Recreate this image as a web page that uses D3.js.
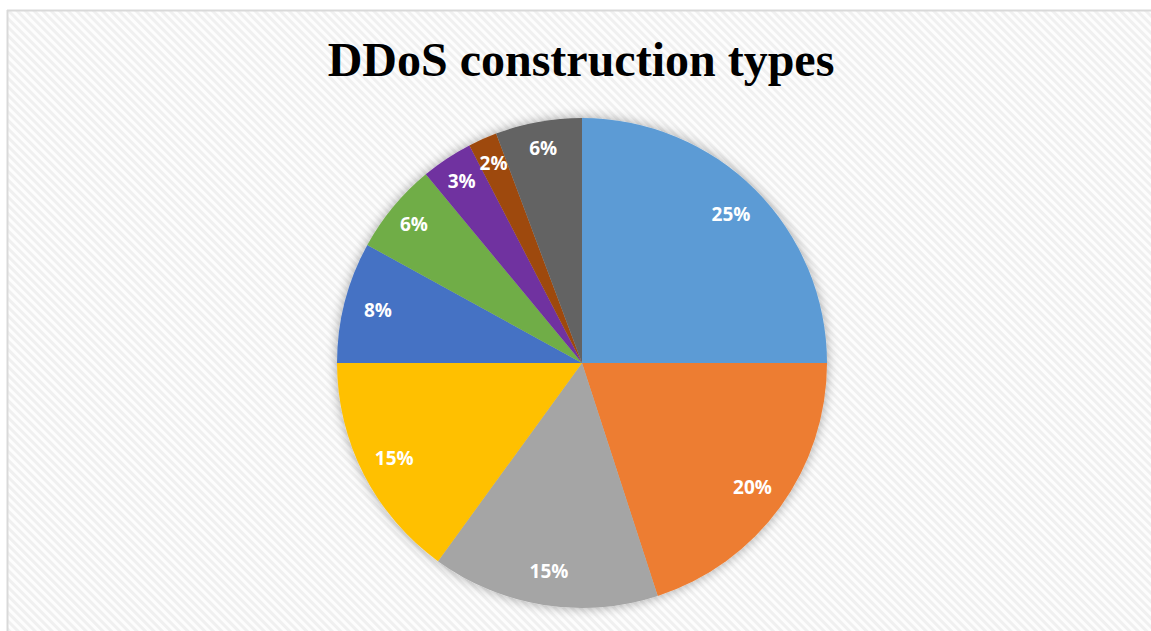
<!DOCTYPE html>
<html lang="en">
<head>
    <meta charset="UTF-8">
    <title>DDoS construction types</title>
    <script src="https://d3js.org/d3.v7.min.js"></script>
    <style>
        html, body {
            margin: 0;
            padding: 0;
            background: #fff;
        }
        .title {
            font-family: 'Liberation Serif', 'Times New Roman', serif;
            font-weight: bold;
            font-size: 48px;
        }
        .slice-label {
            font-family: 'Open Sans', sans-serif;
            font-weight: bold;
            font-size: 19px;
            fill: #fff;
        }
    </style>
</head>
<body>
    <svg width="1151" height="631"></svg>

    <script>
        // slice data, clockwise from 12 o'clock
        const categories = ["Type 1", "Type 2", "Type 3", "Type 4", "Type 5", "Type 6", "Type 7", "Type 8", "Type 9"];
        const values = [25, 20, 15, 15, 8, 6, 3.4, 1.9, 5.7];
        const colors = ["#5b9bd5", "#ed7d31", "#a5a5a5", "#ffc000", "#4472c4", "#70ad47", "#7030a0", "#9e480e", "#636363"];
        const titleText = "DDoS construction types";

        const svg = d3.select("svg"),
            cx = 582,
            cy = 363,
            radius = 245;

        const defs = svg.append("defs");

        // light diagonal hatch background
        const pat = defs.append("pattern")
            .attr("id", "hatch")
            .attr("patternUnits", "userSpaceOnUse")
            .attr("width", 6)
            .attr("height", 6)
            .attr("patternTransform", "rotate(45)");
        pat.append("rect").attr("width", 6).attr("height", 6).attr("fill", "#fdfdfd");
        pat.append("rect").attr("width", 6).attr("height", 3).attr("fill", "#f0f0f0");

        const shadow = defs.append("filter")
            .attr("id", "shadow")
            .attr("x", "-20%").attr("y", "-20%")
            .attr("width", "140%").attr("height", "140%");
        shadow.append("feGaussianBlur")
            .attr("in", "SourceAlpha")
            .attr("stdDeviation", 6);
        shadow.append("feComponentTransfer")
            .append("feFuncA").attr("type", "linear").attr("slope", 0.35);
        const merge = shadow.append("feMerge");
        merge.append("feMergeNode");
        merge.append("feMergeNode").attr("in", "SourceGraphic");

        svg.append("rect")
            .attr("x", 0).attr("y", 0)
            .attr("width", 1151).attr("height", 631)
            .attr("fill", "#fff");

        svg.append("rect")
            .attr("x", 8).attr("y", 11)
            .attr("width", 1143).attr("height", 620)
            .attr("fill", "url(#hatch)");

        // chart border (top and left only visible)
        svg.append("line")
            .attr("x1", 7).attr("x2", 1151)
            .attr("y1", 10.5).attr("y2", 10.5)
            .attr("stroke", "#d9d9d9").attr("stroke-width", 2);
        svg.append("line")
            .attr("x1", 7.5).attr("x2", 7.5)
            .attr("y1", 10).attr("y2", 631)
            .attr("stroke", "#d9d9d9").attr("stroke-width", 2);

        svg.append("text")
            .attr("class", "title")
            .attr("x", 581)
            .attr("y", 76)
            .attr("text-anchor", "middle")
            .text(titleText);

        const data = categories.map(function (c, i) {
            return {name: c, value: values[i], color: colors[i]};
        });
        const total = d3.sum(values);

        const pie = d3.pie()
            .sort(null)
            .value(function (d) { return d.value; });

        const arc = d3.arc()
            .innerRadius(0)
            .outerRadius(radius);

        // small slices get their labels pushed a bit further out
        function labelRadius(d) {
            return (d.endAngle - d.startAngle) < 0.45 ? radius * 0.89 : radius * 0.86;
        }

        const g = svg.append("g")
            .attr("transform", "translate(" + cx + "," + cy + ")");

        const arcs = pie(data);

        g.append("g")
            .attr("filter", "url(#shadow)")
            .selectAll("path")
            .data(arcs)
            .enter()
            .append("path")
            .attr("d", arc)
            .attr("fill", function (d) { return d.data.color; });

        g.selectAll(".slice-label")
            .data(arcs)
            .enter()
            .append("text")
            .attr("class", "slice-label")
            .attr("transform", function (d) {
                const r = labelRadius(d);
                const c = d3.arc().innerRadius(r).outerRadius(r).centroid(d);
                return "translate(" + c[0] + "," + c[1] + ")";
            })
            .attr("text-anchor", "middle")
            .attr("dy", "0.35em")
            .text(function (d) {
                return Math.round(d.data.value / total * 100) + "%";
            });
    </script>
</body>
</html>
